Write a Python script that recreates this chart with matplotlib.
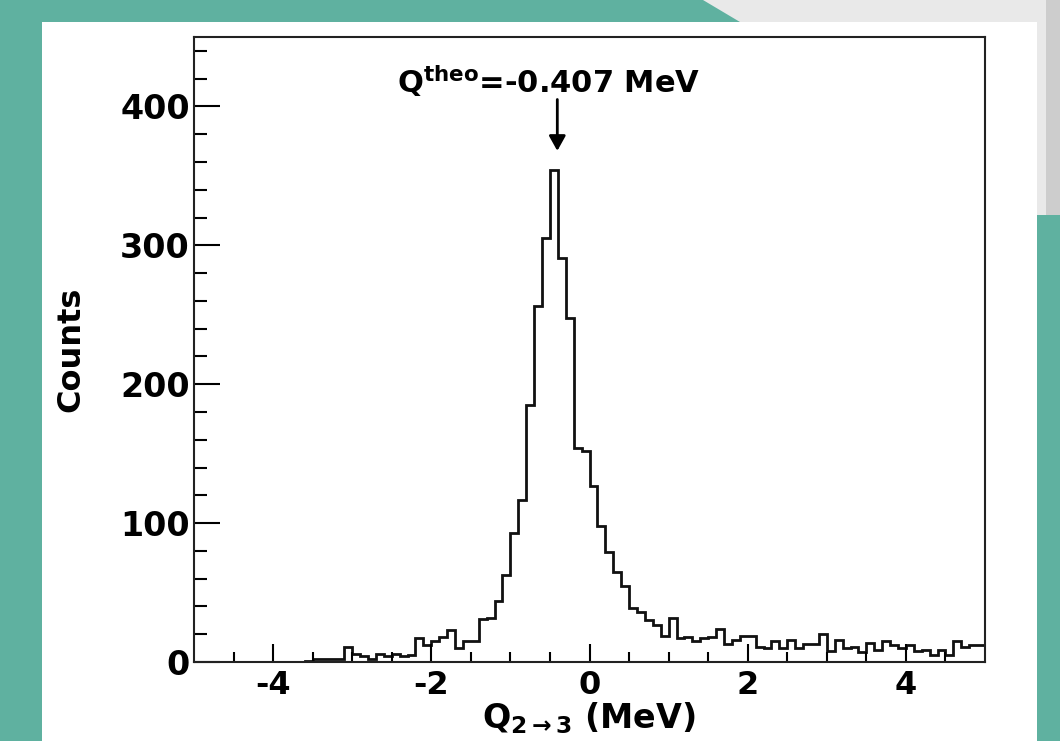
import numpy as np
import matplotlib
matplotlib.use('Agg')
import matplotlib.pyplot as plt
from matplotlib.patches import Rectangle, Polygon

# histogram of Q(2->3), 100 bins of 0.1 MeV from -5 to 5
bin_lo = -5.0
bin_hi = 5.0
counts_neg = [0] * 14 + [1, 2, 2, 2, 2, 11, 6, 4, 2, 6, 4, 6, 4, 5, 17, 12, 15, 18,
                         23, 10, 15, 15, 31, 32, 44, 63, 93, 117, 185, 256, 305, 354,
                         291, 248, 154, 152]
counts_pos = [127, 98, 79, 65, 55, 39, 36, 30, 27, 19,
              32, 17, 18, 15, 17, 18, 24, 13, 16, 19,
              19, 11, 10, 15, 10, 16, 10, 13, 13, 20,
              8, 16, 10, 11, 7, 14, 9, 15, 12, 10,
              12, 8, 9, 5, 9, 5, 15, 11, 12, 12]
counts = np.array(counts_neg + counts_pos)

q_theo = -0.407
label_theo = r'$Q^{theo}$=-0.407 MeV'
x_ticks = [-4, -2, 0, 2, 4]
y_ticks = [0, 100, 200, 300, 400]

W, H = 1060, 741
plt.rcParams['font.family'] = ['DejaVu Sans']
plt.rcParams['mathtext.fontset'] = 'dejavusans'
plt.rcParams['mathtext.default'] = 'bf'

fig = plt.figure(figsize=(W / 100, H / 100), dpi=100)
teal = '#5fb1a0'
fig.patch.set_facecolor(teal)


def px(x, y):
    return (x / W, 1 - y / H)


# slide decoration, kept behind the axes
fig.add_artist(Polygon([px(703, 0), px(1060, 0), px(1060, 215), px(1037, 215),
                        px(1037, 22), px(740, 22)], closed=True, zorder=-5,
                       transform=fig.transFigure, facecolor='#e9e9e9', edgecolor='none'))
fig.add_artist(Rectangle(px(1046, 215), 14 / W, 215 / H, transform=fig.transFigure,
                         facecolor='#cdcdcd', edgecolor='none', zorder=-5))
fig.add_artist(Rectangle(px(42, 741), (1037 - 42) / W, (741 - 22) / H, zorder=-5,
                         transform=fig.transFigure, facecolor='white', edgecolor='none'))

ax = fig.add_axes([194 / W, (H - 662) / H, (985 - 194) / W, (662 - 37) / H])
ax.set_facecolor('white')

edges = np.linspace(bin_lo, bin_hi, len(counts) + 1)
ax.stairs(counts, edges, color='#111111', lw=2)

ax.set_xlim(bin_lo, bin_hi)
ax.set_ylim(0, 450)
ax.set_xticks(x_ticks)
ax.set_xticks(np.arange(-4.5, 5, 0.5), minor=True)
ax.set_yticks(y_ticks)
ax.set_yticks(np.arange(0, 450, 20), minor=True)
ax.set_xticklabels([str(t) for t in x_ticks], fontsize=23, fontweight='bold')
ax.set_yticklabels([str(t) for t in y_ticks], fontsize=24, fontweight='bold')

ax.tick_params(axis='x', which='major', direction='in', length=13, width=1.5, pad=6)
ax.tick_params(axis='x', which='minor', direction='in', length=7, width=1.5)
ax.tick_params(axis='y', which='major', direction='in', length=19, width=1.5, pad=3)
ax.tick_params(axis='y', which='minor', direction='in', length=9, width=1.5)
for s in ax.spines.values():
    s.set_linewidth(1.5)
    s.set_color('#222222')

ax.set_ylabel('Counts', fontsize=23, fontweight='bold', labelpad=24)
fig.text(589 / W, (H - 728) / H, r'$Q_{2\rightarrow3}$ (MeV)', ha='center',
         va='baseline', fontsize=24, fontweight='bold')

ax.text(-0.52, 410, label_theo, ha='center', va='baseline', fontsize=22,
        fontweight='bold')
ax.annotate('', xy=(q_theo, 368), xytext=(q_theo, 405),
            arrowprops=dict(arrowstyle='-|>,head_length=0.9,head_width=0.5',
                            color='black', lw=2, shrinkA=0, shrinkB=0))

fig.savefig('out.png', dpi=100, facecolor=fig.get_facecolor())
